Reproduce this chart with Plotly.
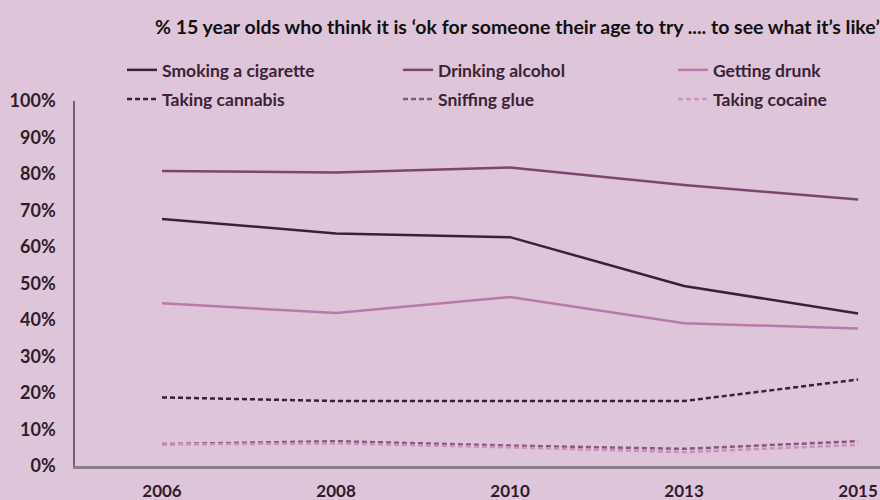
import plotly.graph_objects as go

years = ["2006", "2008", "2010", "2013", "2015"]
smoking = [67.7, 63.7, 62.7, 49.3, 41.8]
alcohol = [80.8, 80.4, 81.8, 77.0, 73.0]
drunk = [44.6, 41.9, 46.3, 39.1, 37.7]
cannabis = [18.8, 17.8, 17.8, 17.8, 23.7]
glue = [6.0, 6.8, 5.6, 4.7, 6.8]
cocaine = [5.9, 6.2, 5.1, 3.8, 5.8]
y_ticks = [0, 10, 20, 30, 40, 50, 60, 70, 80, 90, 100]
y_labels = [f"{v}%" for v in y_ticks]

series = [
    ("Smoking a cigarette", smoking, "#3b2036", "solid"),
    ("Drinking alcohol", alcohol, "#7b4670", "solid"),
    ("Getting drunk", drunk, "#b87aad", "solid"),
    ("Taking cannabis", cannabis, "#3b2036", "5px,3px"),
    ("Sniffing glue", glue, "#8a5680", "5px,3px"),
    ("Taking cocaine", cocaine, "#c892bd", "5px,3px"),
]
# legend slot positions (pixels): column left x, row center y
leg_pos = [(122, 70), (398, 70), (673, 70), (122, 99), (398, 99), (673, 99)]

fig = go.Figure()
legends = {}
for i, (name, vals, color, dash) in enumerate(series):
    key = "legend" if i == 0 else f"legend{i+1}"
    fig.add_trace(go.Scatter(x=years, y=vals, mode="lines", name=name,
                             line=dict(color=color, width=2.5, dash=dash),
                             legend=key))
    px, py = leg_pos[i]
    legends[key] = dict(x=px / 880, y=1 - py / 500, xref="container", yref="container",
                        xanchor="left", yanchor="middle",
                        bgcolor="rgba(0,0,0,0)", itemwidth=30,
                        borderwidth=0,
                        font=dict(family="Lato, sans-serif", size=17.5, color="#3a2235", weight="bold"))

bg = "#dfc5d9"
fig.update_layout(
    width=880, height=500,
    paper_bgcolor=bg, plot_bgcolor=bg,
    margin=dict(l=75, r=0, t=101, b=34, autoexpand=False),
    title=dict(text="% 15 year olds who think it is \u2018ok for someone their age to try .... to see what it\u2019s like\u2019",
               x=155/880, xanchor="left", y=1-27/500, yanchor="middle",
               font=dict(family="Lato, sans-serif", size=19.5, color="#111111", weight="bold")),
    xaxis=dict(type="category", range=[-0.5, 4.126], showgrid=False,
               showline=True, linecolor="#8a8088", linewidth=2.5,
               ticks="", tickfont=dict(family="Lato, sans-serif", size=17, color="#2e1c2a", weight="bold"),
               ticklabelstandoff=8),
    yaxis=dict(range=[0, 100], tickvals=y_ticks, ticktext=y_labels, showgrid=False,
               zeroline=False, showline=True, linecolor="#6e6470", linewidth=1.5,
               ticks="", tickfont=dict(family="Lato, sans-serif", size=18, color="#2e1c2a", weight="bold"),
               ticklabelstandoff=14),
    showlegend=True,
    **legends,
)

fig.write_html("out.html", config={"displayModeBar": False},
               post_script="document.body.style.margin='0';document.body.style.background='#dfc5d9';")
